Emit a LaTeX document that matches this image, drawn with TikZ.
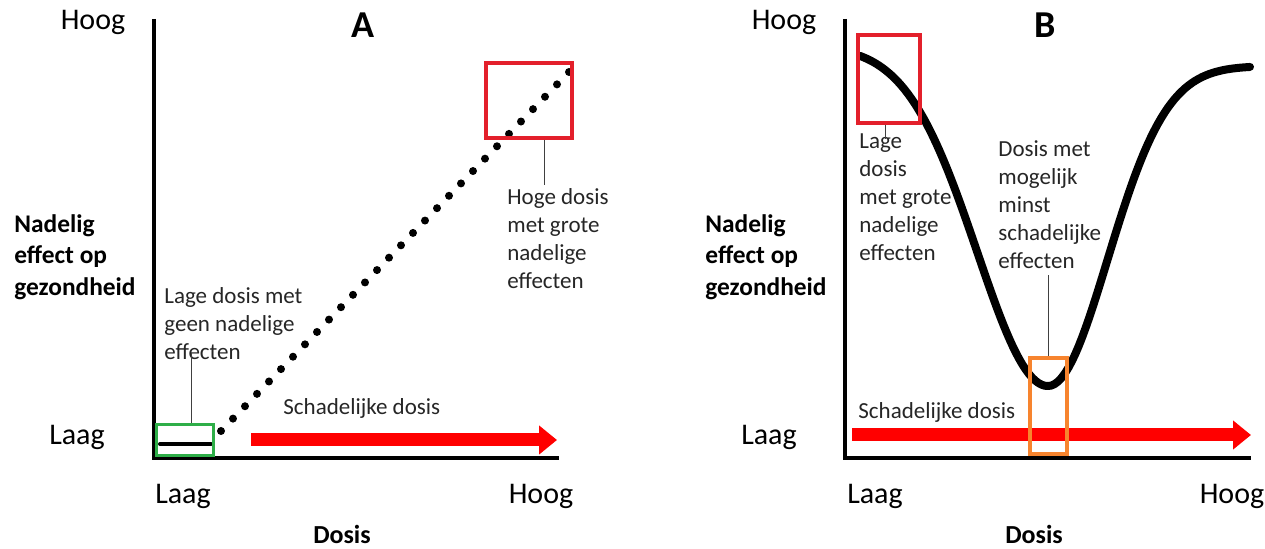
\documentclass[tikz,border=0pt]{standalone}
\usepackage{fontspec}
\setmainfont{Carlito}
\usetikzlibrary{arrows.meta,calc}
\definecolor{boxred}{HTML}{E3202B}
\definecolor{arrowred}{HTML}{FF0000}
\definecolor{boxgreen}{HTML}{2EAE48}
\definecolor{boxorange}{HTML}{F7842E}
\definecolor{notegray}{HTML}{262626}

\begin{document}
\begin{tikzpicture}[x=0.5pt,y=-0.5pt,
  axisline/.style={line width=2pt},
  lvl/.style={inner sep=0pt,font=\fontsize{15}{18}\selectfont},
  ylab/.style={inner sep=0pt,anchor=north west,align=left,font=\fontsize{12.7}{15.75}\selectfont\bfseries},
  note/.style={inner sep=0pt,anchor=north west,align=left,text=notegray,font=\fontsize{11.5}{14}\selectfont},
  markbox/.style={rectangle,draw,inner sep=0pt,line width=2pt},
  leader/.style={line width=0.5pt,black!75},
  dosearrow/.style={draw=arrowred,line width=6.5pt,-{Triangle[length=9pt,width=14pt]}}]

\useasboundingbox (0,0) rectangle (1265,549);

% ---- A: lineair ----
\draw[axisline] (154,19) -- (154,458) -- (559,458);
\path (363,25) node[font=\fontsize{19}{22}\selectfont\bfseries] (titA) {A};
\path (93,22) node[lvl] (hoogyA) {Hoog};
\path (77,437) node[lvl] (laagyA) {Laag};
\path (183,496) node[lvl] (laagxA) {Laag};
\path (541,496) node[lvl] (hoogxA) {Hoog};
\path (342,534) node[font=\fontsize{13}{16}\selectfont\bfseries] (dosA) {Dosis};
\path (14,214) node[ylab] (effA) {Nadelig\\effect op\\gezondheid};

\coordinate (dA0) at (221,431);
\coordinate (dA1) at (569,72);
\foreach \i in {0,...,29}
  \fill ($(dA0)!\i/29!(dA1)$) circle (2pt);
\draw[line width=2pt,line cap=round] (160,444) -- (211,444);

\path (185,440) node[markbox,draw=boxgreen,line width=1.75pt,minimum width=28.5pt,minimum height=15.5pt] (groenA) {};
\path (529,100.5) node[markbox,draw=boxred,minimum width=43pt,minimum height=37.5pt] (roodA) {};

\path (164,287) node[note] (lageA) {Lage dosis met\\geen nadelige\\effecten};
\path (507,188) node[note] (hogeA) {Hoge dosis\\met grote\\nadelige\\effecten};
\draw[leader] ([xshift=3pt]groenA.north) -- ([xshift=3pt,yshift=3.5pt]groenA.north |- lageA.south);
\draw[leader] ([xshift=7.5pt]roodA.south) -- ([xshift=7.5pt,yshift=1.5pt]roodA.south |- hogeA.north);

\path (283,408) node[note,anchor=west] (schadA) {Schadelijke dosis};
\coordinate (pA0) at (251,440);
\coordinate (pA1) at (557,440);
\draw[dosearrow] (pA0) -- (pA1);

% ---- B: U-vormig ----
\draw[axisline] (845,19) -- (845,458) -- (1251,458);
\path (1045,25) node[font=\fontsize{19}{22}\selectfont\bfseries] (titB) {B};
\path (784,22) node[lvl] (hoogyB) {Hoog};
\path (769,437) node[lvl] (laagyB) {Laag};
\path (875,496) node[lvl] (laagxB) {Laag};
\path (1232,496) node[lvl] (hoogxB) {Hoog};
\path (1034,534) node[font=\fontsize{13}{16}\selectfont\bfseries] (dosB) {Dosis};
\path (705,214) node[ylab] (effB) {Nadelig\\effect op\\gezondheid};

\path (858,412) node[note,anchor=west] (schadB) {Schadelijke dosis};
\coordinate (pB0) at (852,435);
\coordinate (pB1) at (1251,435);
\draw[dosearrow] (pB0) -- (pB1);

% dal-curve: twee halve klokken
\draw[line width=4pt,line cap=round]
  plot[domain=860:1048,samples=60] (\x,{386-340*(1-exp(-((\x-1048)/100)^2))})
  -- plot[domain=1048:1250,samples=60] (\x,{386-320*(1-exp(-((\x-1048)/84)^2))});

\path (889,79) node[markbox,draw=boxred,minimum width=31pt,minimum height=44pt] (roodB) {};
\path (1048.5,406) node[markbox,draw=boxorange,minimum width=18.5pt,minimum height=48pt] (oranjeB) {};

\path (859,133) node[note] (lageB) {Lage\\dosis\\met grote\\nadelige\\effecten};
\path (998,140) node[note] (minstB) {Dosis met\\mogelijk\\minst\\schadelijke\\effecten};
\draw[leader] ([xshift=-2pt]roodB.south) -- ([xshift=-2pt,yshift=-3pt]roodB.south |- lageB.north);
\draw[leader] (oranjeB.north) -- ([yshift=-3pt]oranjeB.north |- minstB.south);
\end{tikzpicture}
\end{document}
